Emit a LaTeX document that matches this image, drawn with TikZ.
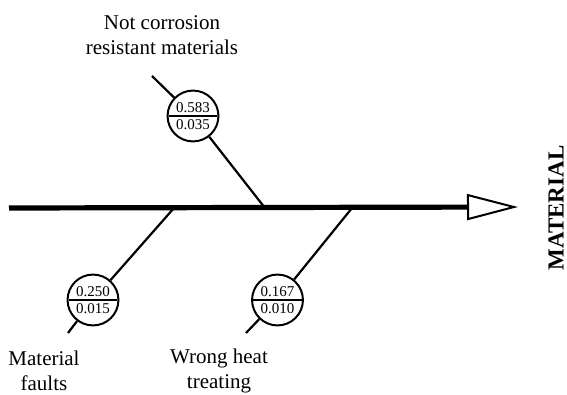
\documentclass[tikz,border=0pt]{standalone}
\usepackage{fontspec}
\setmainfont{Liberation Serif}
\usetikzlibrary{
arrows.meta,
positioning,
shapes.multipart
}
\tikzset{>=latex}

\begin{document}
\begin{tikzpicture}[x=0.5pt, y=-0.5pt, font=\fontsize{10.5}{12.5}\selectfont]
		\tikzset{ratio/.style={draw,shape=circle split,line width=1pt,inner sep=1.3pt,font=\fontsize{7.5}{8}\selectfont,fill=white}}
		\tikzset{bone/.style={line width=1.1pt}}
		\tikzset{cause/.style={align=center}}
		
		\useasboundingbox (0,0) rectangle (567,395);
		
		% spine
		\coordinate (spinestart) at (9,208);
		\coordinate (spineend) at (518,207);
		\draw[line width=2.6pt,-{Triangle[open,length=25.5pt,width=13pt,line width=1pt]}] (spinestart) -- (spineend);
		
		\node[rotate=90,font=\fontsize{11.5}{13}\selectfont\bfseries] (effect) at (556,208) {MATERIAL};
		
		% junctions on the spine and free ends
		\coordinate (jcorr) at (265,208);
		\coordinate (jfault) at (174,208);
		\coordinate (jheat) at (352,208);
		\coordinate (tcorr) at (152,76);
		\coordinate (tfault) at (68,333);
		\coordinate (theat) at (246,333);
		
		\node[ratio] (corr) at (193,116) {0.583\nodepart{lower}0.035};
		\node[ratio] (fault) at (93,300) {0.250\nodepart{lower}0.015};
		\node[ratio] (heat) at (277.5,300) {0.167\nodepart{lower}0.010};
		
		\draw[bone] (tcorr) -- (corr);
		\draw[bone] (corr) -- (jcorr);
		\draw[bone] (tfault) -- (fault);
		\draw[bone] (fault) -- (jfault);
		\draw[bone] (theat) -- (heat);
		\draw[bone] (heat) -- (jheat);
		
		\node[cause] (corrtext) at (162,35) {Not corrosion\\resistant materials};
		\node[cause] (faulttext) at (44,371) {Material\\faults};
		\node[cause] (heattext) at (219,371) {Wrong heat\\treating};
	\end{tikzpicture}
\end{document}
